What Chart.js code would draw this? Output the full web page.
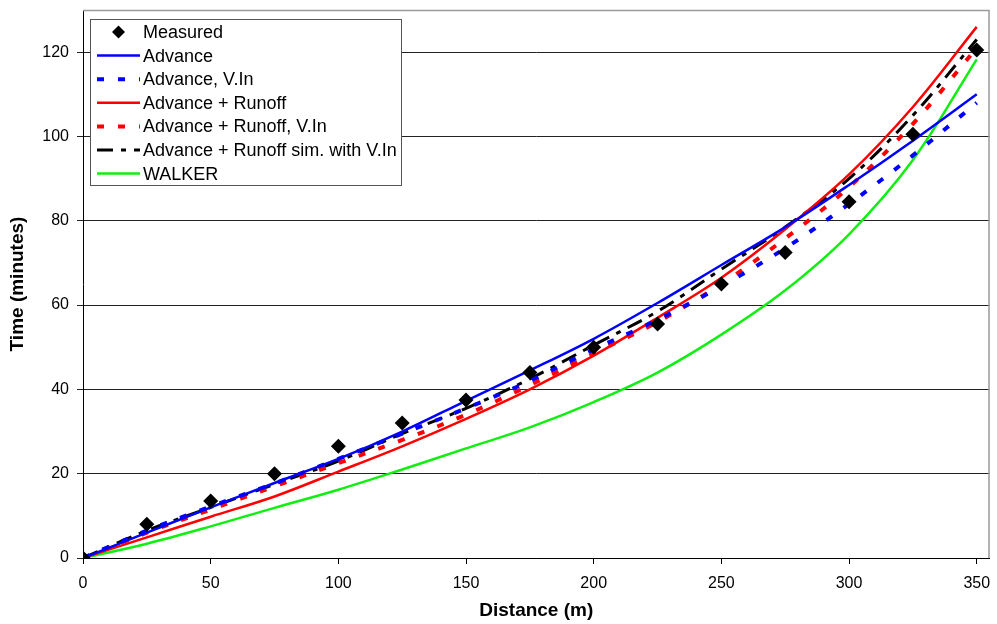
<!DOCTYPE html>
<html><head><meta charset="utf-8">
<script src="https://cdn.jsdelivr.net/npm/chart.js@4/dist/chart.umd.min.js"></script>
<style>html,body{margin:0;padding:0;background:#fff}#wrap{width:997px;height:624px}</style>
</head><body><div id="wrap"><canvas id="c" width="997" height="624"></canvas></div>
<script>
const distance = [0, 25, 50, 75, 100, 125, 150, 175, 200, 225, 250, 275, 300, 325, 350];
const measured = [0, 8, 13.5, 20, 26.5, 32, 37.5, 44, 50, 55.5, 65, 72.5, 84.5, 100.5, 120.5];
const advance = [0, 6, 12, 17.8, 23.5, 30, 37.3, 44.5, 52, 60.5, 69.5, 78.5, 88.5, 99, 110];
const advanceVIn = [0, 6.5, 12.2, 17.7, 23.5, 29.5, 35.5, 42, 49.5, 56.5, 64.5, 73.5, 84, 95.5, 108];
const advRunoff = [0, 4.9, 9.8, 14.6, 20.5, 26.5, 33, 40, 48, 57, 66.5, 78, 91, 107, 126];
const advRunoffVIn = [0, 6, 11.5, 17, 22.5, 28, 34, 41, 48.5, 56, 65, 75.8, 88, 103, 121];
const advRunoffSim = [0, 6.5, 12, 17.5, 23, 29.5, 35.5, 42.5, 50.5, 58.5, 68.5, 78.5, 90, 105, 123];
const walker = [0, 3.4, 7.5, 11.9, 16.2, 21, 26, 31, 37, 44, 53, 63.5, 76.8, 94.4, 118.3];
const xTicks = [0, 50, 100, 150, 200, 250, 300, 350];
const yTicks = [0, 20, 40, 60, 80, 100, 120];
const seriesNames = ['Measured', 'Advance', 'Advance, V.In', 'Advance + Runoff', 'Advance + Runoff, V.In', 'Advance + Runoff sim. with V.In', 'WALKER'];

const FONT = "'Liberation Sans', Arial, sans-serif";
function pts(ys) { return distance.map((x, i) => ({ x: x, y: ys[i] })); }

function lineDs(label, ys, color, width, dash) {
  return {
    label: label, data: pts(ys), showLine: true, borderColor: color, backgroundColor: color,
    borderWidth: width, borderDash: dash || [], pointRadius: 0, pointHoverRadius: 0,
    tension: 0.35, fill: false
  };
}

const boxLegend = {
  id: 'boxLegend',
  afterDraw(chart) {
    const ctx = chart.ctx, a = chart.chartArea;
    ctx.save();
    ctx.strokeStyle = '#9a9a9a'; ctx.lineWidth = 1.5;
    ctx.beginPath();
    ctx.moveTo(a.left, a.top + 0.5); ctx.lineTo(a.right - 0.5, a.top + 0.5); ctx.lineTo(a.right - 0.5, a.bottom);
    ctx.stroke();
    const bx = 90.5, by = 19.5, bw = 311, bh = 166;
    ctx.fillStyle = '#fff'; ctx.fillRect(bx, by, bw, bh);
    ctx.strokeStyle = '#555'; ctx.lineWidth = 1; ctx.strokeRect(bx, by, bw, bh);
    ctx.font = '18px ' + FONT; ctx.textBaseline = 'middle'; ctx.textAlign = 'left';
    chart.data.datasets.forEach((ds, i) => {
      const y = 32 + i * 23.6;
      if (ds.showLine === false) {
        const r = 6.5, cx = 118.5;
        ctx.fillStyle = '#000';
        ctx.beginPath(); ctx.moveTo(cx, y - r); ctx.lineTo(cx + r, y); ctx.lineTo(cx, y + r); ctx.lineTo(cx - r, y); ctx.closePath(); ctx.fill();
      } else {
        ctx.strokeStyle = ds.borderColor; ctx.lineWidth = ds.borderWidth;
        ctx.setLineDash(ds.borderDash || []);
        ctx.beginPath(); ctx.moveTo(97, y); ctx.lineTo(140, y); ctx.stroke();
        ctx.setLineDash([]);
      }
      ctx.fillStyle = '#000';
      ctx.fillText(ds.label, 143, y + 1);
    });
    ctx.restore();
  }
};

new Chart(document.getElementById('c'), {
  type: 'scatter',
  data: {
    datasets: [
      { label: seriesNames[0], data: pts(measured), showLine: false, pointStyle: 'rectRot', pointRadius: 7.5, pointHoverRadius: 7.5,
        backgroundColor: '#000', borderColor: '#000', borderWidth: 0 },
      lineDs(seriesNames[1], advance, '#0000ff', 2.5),
      lineDs(seriesNames[2], advanceVIn, '#0000ff', 4, [7, 14]),
      lineDs(seriesNames[3], advRunoff, '#ff0000', 2.5),
      lineDs(seriesNames[4], advRunoffVIn, '#ff0000', 4, [7, 14]),
      lineDs(seriesNames[5], advRunoffSim, '#000000', 3, [16, 8, 5, 8]),
      lineDs(seriesNames[6], walker, '#11ee11', 2.5)
    ]
  },
  options: {
    responsive: false, animation: false, devicePixelRatio: 1,
    layout: { padding: { top: 10, right: 5, left: 0, bottom: 0 } },
    plugins: { legend: { display: false }, tooltip: { enabled: false } },
    scales: {
      x: {
        type: 'linear', min: 0, max: 355,
        afterBuildTicks: s => { s.ticks = xTicks.map(v => ({ value: v })); },
        afterFit: s => { s.height = 66; s.paddingLeft = 0; s.paddingRight = 0; },
        grid: { drawOnChartArea: false, drawTicks: true, tickLength: 6, color: '#000' },
        border: { color: '#000', width: 1 },
        ticks: { font: { size: 16, family: FONT }, color: '#000', padding: 10, maxRotation: 0 },
        title: { display: true, text: 'Distance (m)', color: '#000', font: { size: 19, weight: 'bold', family: FONT }, padding: { top: 0, bottom: 2 } }
      },
      y: {
        type: 'linear', min: 0, max: 130,
        afterBuildTicks: s => { s.ticks = yTicks.map(v => ({ value: v })); },
        afterFit: s => { s.width = 83; s.paddingTop = 0; s.paddingBottom = 0; },
        grid: { color: '#222', tickLength: 6, lineWidth: 1 },
        border: { color: '#000', width: 1 },
        ticks: { font: { size: 16, family: FONT }, color: '#000', padding: 8 },
        title: { display: true, text: 'Time (minutes)', color: '#000', font: { size: 19, weight: 'bold', family: FONT }, padding: { top: 6, bottom: 0 } }
      }
    }
  },
  plugins: [boxLegend]
});
</script>
</body></html>
